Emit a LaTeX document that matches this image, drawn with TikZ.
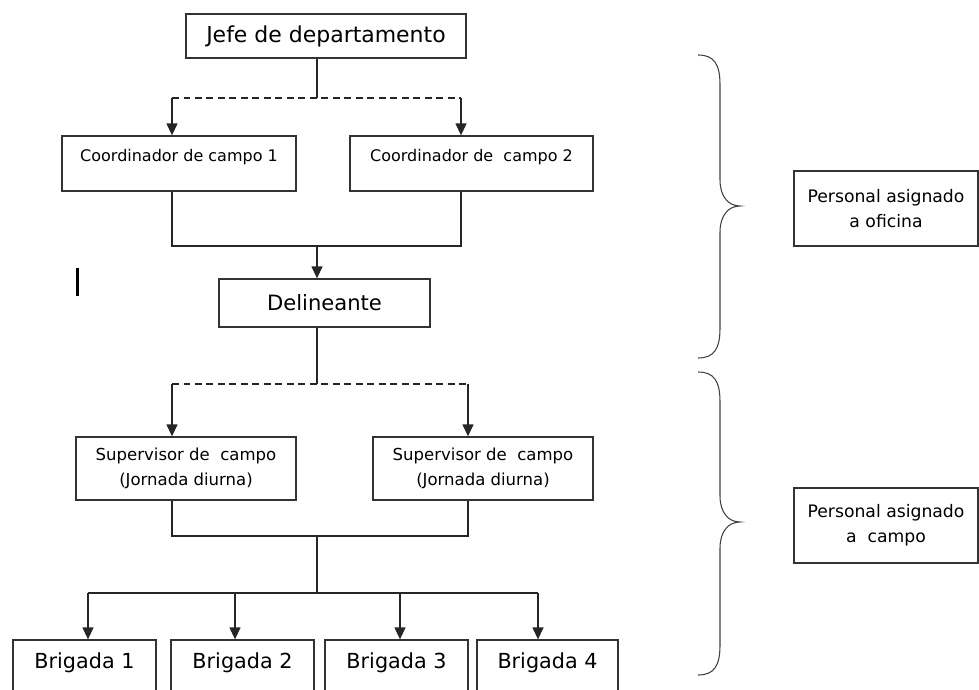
\documentclass[tikz,border=0pt]{standalone}
\usepackage{fontspec}
\setmainfont{DejaVu Sans}
\usetikzlibrary{arrows.meta}

\begin{document}
\begin{tikzpicture}[x=0.02cm,y=-0.02cm,
  box/.style={draw=black!80, line width=0.75pt, inner sep=0pt, align=center},
  link/.style={draw=black!85, line width=0.75pt},
  arr/.style={link, -{Triangle[length=0.24cm,width=0.22cm]}},
  dash line/.style={link, dash pattern=on 0.14cm off 0.09cm},
  brace/.style={draw=black!75, line width=0.6pt}]
\clip (0,0) rectangle (979,689);
%% nodes
\node[box, minimum width=5.6cm, minimum height=0.88cm, font=\fontsize{12.5}{15}\selectfont]
  (jefe) at (326,36) {Jefe de departamento};
\node[box, minimum width=4.68cm, minimum height=1.1cm, text depth=0.33cm, font=\fontsize{9.1}{11}\selectfont]
  (coord1) at (179,163.5) {Coordinador de campo 1};
\node[box, minimum width=4.86cm, minimum height=1.1cm, text depth=0.33cm, font=\fontsize{9.1}{11}\selectfont]
  (coord2) at (471.5,163.5) {Coordinador de\ \ campo 2};
\node[box, minimum width=4.22cm, minimum height=0.96cm, font=\fontsize{12}{14}\selectfont]
  (delin) at (324.5,303) {Delineante};
\node[box, minimum width=4.4cm, minimum height=1.26cm, font=\fontsize{9.4}{14.2}\selectfont]
  (sup1) at (186,468.5) {Supervisor de\ \ campo\\(Jornada diurna)};
\node[box, minimum width=4.4cm, minimum height=1.26cm, font=\fontsize{9.4}{14.2}\selectfont]
  (sup2) at (483,468.5) {Supervisor de\ \ campo\\(Jornada diurna)};
\node[box, minimum width=2.86cm, minimum height=1.2cm, text depth=0.37cm, font=\fontsize{11.8}{14}\selectfont]
  (brig1) at (84.5,670) {Brigada 1};
\node[box, minimum width=2.86cm, minimum height=1.2cm, text depth=0.37cm, font=\fontsize{11.8}{14}\selectfont]
  (brig2) at (242.5,670) {Brigada 2};
\node[box, minimum width=2.86cm, minimum height=1.2cm, text depth=0.37cm, font=\fontsize{11.8}{14}\selectfont]
  (brig3) at (396.5,670) {Brigada 3};
\node[box, minimum width=2.82cm, minimum height=1.2cm, text depth=0.37cm, font=\fontsize{11.8}{14}\selectfont]
  (brig4) at (547.5,670) {Brigada 4};
\node[box, minimum width=3.68cm, minimum height=1.5cm, font=\fontsize{9.8}{14.2}\selectfont]
  (oficina) at (886,208.5) {Personal asignado\\a oficina};
\node[box, minimum width=3.68cm, minimum height=1.5cm, font=\fontsize{9.8}{14.2}\selectfont]
  (campo) at (886,525.5) {Personal asignado\\a\ \ campo};
%% bends
\coordinate (d1) at (317,98);
\coordinate (d1l) at (172,98);
\coordinate (d1r) at (461,98);
\coordinate (j1) at (317,246);
\coordinate (j1l) at (172,246);
\coordinate (j1r) at (461,246);
\coordinate (d2) at (317,384);
\coordinate (d2l) at (172,384);
\coordinate (d2r) at (468,384);
\coordinate (j2) at (317,536);
\coordinate (j2l) at (172,536);
\coordinate (j2r) at (468,536);
\coordinate (s) at (317,593);
\coordinate (s1) at (88,593);
\coordinate (s2) at (235,593);
\coordinate (s3) at (400,593);
\coordinate (s4) at (538,593);
%%% edges
\draw[link] (d1 |- jefe.south) -- (d1);
\draw[dash line] (d1l) -- (d1r);
\draw[arr] (d1l) -- (d1l |- coord1.north);
\draw[arr] (d1r) -- (d1r |- coord2.north);
\draw[link] (j1l |- coord1.south) -- (j1l) -- (j1r) -- (j1r |- coord2.south);
\draw[arr] (j1) -- (j1 |- delin.north);
\draw[link] (d2 |- delin.south) -- (d2);
\draw[dash line] (d2l) -- (d2r);
\draw[arr] (d2l) -- (d2l |- sup1.north);
\draw[arr] (d2r) -- (d2r |- sup2.north);
\draw[link] (j2l |- sup1.south) -- (j2l) -- (j2r) -- (j2r |- sup2.south);
\draw[link] (j2) -- (s);
\draw[link] (s1) -- (s4);
\draw[arr] (s1) -- (s1 |- brig1.north);
\draw[arr] (s2) -- (s2 |- brig2.north);
\draw[arr] (s3) -- (s3 |- brig3.north);
\draw[arr] (s4) -- (s4 |- brig4.north);
%%% braces
\draw[brace] (698,55) .. controls (714,55) and (720,64) .. (720,85) -- (720,180)
  .. controls (720,196) and (728,206) .. (740,206)
  .. controls (728,206) and (720,216) .. (720,232) -- (720,328)
  .. controls (720,349) and (714,358) .. (698,358);
\draw[brace] (698,372) .. controls (714,372) and (720,381) .. (720,402) -- (720,496)
  .. controls (720,512) and (728,522) .. (740,522)
  .. controls (728,522) and (720,532) .. (720,548) -- (720,645)
  .. controls (720,666) and (714,675) .. (698,675);
% cursor mark
\draw[line width=0.06cm] (77,268) -- (77,296);
\end{tikzpicture}
\end{document}
